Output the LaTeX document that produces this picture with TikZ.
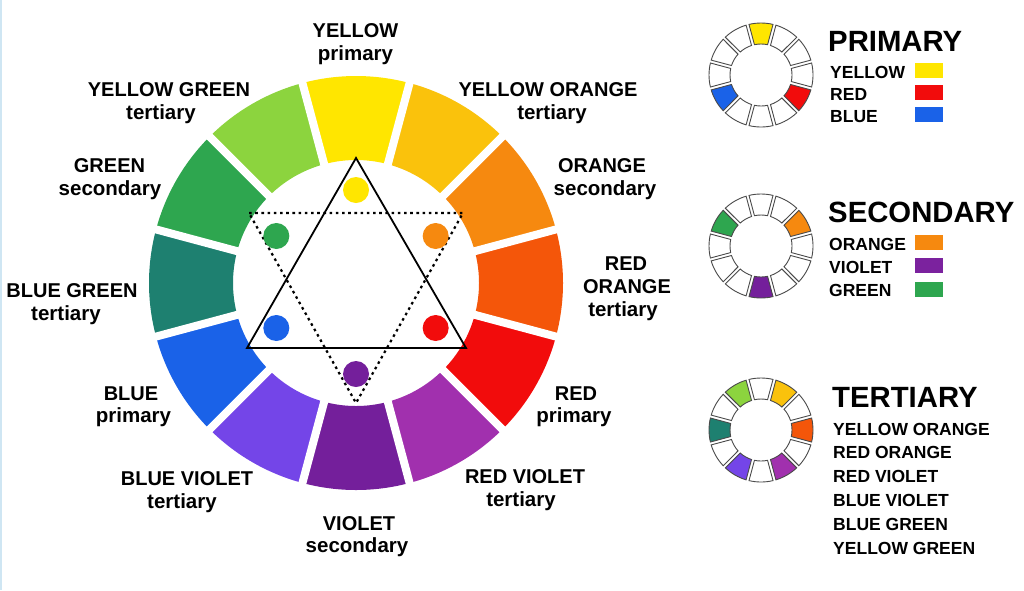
\documentclass[tikz,border=0pt]{standalone}
\usepackage{fontspec}
\setmainfont{Liberation Sans}
\definecolor{cY}{HTML}{FFE600}
\definecolor{cYO}{HTML}{FAC20C}
\definecolor{cO}{HTML}{F6890F}
\definecolor{cRO}{HTML}{F4560A}
\definecolor{cR}{HTML}{F20C0C}
\definecolor{cRV}{HTML}{A130AE}
\definecolor{cV}{HTML}{741F9B}
\definecolor{cBV}{HTML}{7445E8}
\definecolor{cB}{HTML}{1A62E8}
\definecolor{cBG}{HTML}{1E8070}
\definecolor{cG}{HTML}{2EA64F}
\definecolor{cYG}{HTML}{8CD43E}
\definecolor{mgray}{HTML}{4A4A4A}
\definecolor{edgeblue}{HTML}{CFE6F3}
\newcommand{\mwheel}[2]{%
  \begin{scope}[shift={#1}, yscale=-1]
    \foreach \a/\c in {#2}
      \draw[draw=mgray, line width=0.9, fill=\c]
        (\a-12.2:31) arc[start angle=\a-12.2, end angle=\a+12.2, radius=31]
        -- (\a+13.35:52) arc[start angle=\a+13.35, end angle=\a-13.35, radius=52]
        -- cycle;
  \end{scope}}
\begin{document}
\begin{tikzpicture}[x=1pt, y=-1pt,
  wlab/.style={font=\bfseries\fontsize{20}{24}\selectfont, anchor=base, inner sep=0pt},
  wsub/.style={font=\bfseries\fontsize{20.5}{24}\selectfont, anchor=base, inner sep=0pt},
  ttl/.style={font=\bfseries\fontsize{29.3}{34}\selectfont, anchor=base west, inner sep=0pt},
  itm/.style={font=\bfseries\fontsize{17.5}{21}\selectfont, anchor=base west, inner sep=0pt},
  swatch/.style={minimum width=28pt, minimum height=15pt, inner sep=0pt, anchor=north west}]
\useasboundingbox (0,0) rectangle (1024,590);
\fill[white] (0,0) rectangle (1024,590);
\draw[edgeblue, line width=1.5] (0.75,0) -- (0.75,590);

% main wheel
\begin{scope}[shift={(356,283)}, yscale=-1]
  \foreach \a/\c in {90/cY,60/cYO,30/cO,0/cRO,-30/cR,-60/cRV,-90/cV,-120/cBV,-150/cB,180/cBG,150/cG,120/cYG}
    \fill[\c] (\a-15:123) arc[start angle=\a-15, end angle=\a+15, radius=123]
      -- (\a+15:207) arc[start angle=\a+15, end angle=\a-15, radius=207] -- cycle;
  \foreach \a in {15,45,...,345}
    \draw[white, line width=8] (\a:118) -- (\a:212);
\end{scope}

% triangles
\coordinate (t1) at (356,158);
\coordinate (t2) at (247,348);
\coordinate (t3) at (466,348);
\draw[line width=1.8] (t1) -- (t2) -- (t3) -- cycle;
\coordinate (d1) at (249,213);
\coordinate (d2) at (463,213);
\coordinate (d3) at (356,403);
\draw[line width=2.2, dash pattern=on 2.6pt off 3.6pt] (d1) -- (d2) -- (d3) -- cycle;

% dots
\begin{scope}[shift={(356,282)}, yscale=-1]
  \foreach \a/\c in {90/cY,30/cO,-30/cR,-90/cV,-150/cB,150/cG}
    \fill[\c] (\a:92) circle[radius=13];
\end{scope}

% labels of the main wheel
\node[wlab] (lY1) at (355.5,37) {YELLOW};
\node[wsub] (lY2) at (355.5,60) {primary};
\node[wlab] (lYG1) at (169,96) {YELLOW GREEN};
\node[wsub] (lYG2) at (161,119) {tertiary};
\node[wlab] (lYO1) at (548,96) {YELLOW ORANGE};
\node[wsub] (lYO2) at (552,119) {tertiary};
\node[wlab] (lG1) at (109.5,172) {GREEN};
\node[wsub] (lG2) at (110,195) {secondary};
\node[wlab] (lO1) at (602,172) {ORANGE};
\node[wsub] (lO2) at (605,195) {secondary};
\node[wlab] (lBG1) at (72,297) {BLUE GREEN};
\node[wsub] (lBG2) at (66,320) {tertiary};
\node[wlab] (lRO1) at (626,270) {RED};
\node[wlab] (lRO2) at (627,293) {ORANGE};
\node[wsub] (lRO3) at (623,316) {tertiary};
\node[wlab] (lB1) at (131,400) {BLUE};
\node[wsub] (lB2) at (133.5,422.5) {primary};
\node[wlab] (lR1) at (576,400) {RED};
\node[wsub] (lR2) at (574,422.5) {primary};
\node[wlab] (lBV1) at (187,485) {BLUE VIOLET};
\node[wsub] (lBV2) at (182,508) {tertiary};
\node[wlab] (lRV1) at (525,483) {RED VIOLET};
\node[wsub] (lRV2) at (521,506) {tertiary};
\node[wlab] (lV1) at (359,530) {VIOLET};
\node[wsub] (lV2) at (357,552) {secondary};

% small wheels
\mwheel{(761,75)}{90/cY,60/white,30/white,0/white,-30/cR,-60/white,-90/white,-120/white,-150/cB,180/white,150/white,120/white}
\mwheel{(761,246)}{90/white,60/white,30/cO,0/white,-30/white,-60/white,-90/cV,-120/white,-150/white,180/white,150/cG,120/white}
\mwheel{(761,430)}{90/white,60/cYO,30/white,0/cRO,-30/white,-60/cRV,-90/white,-120/cBV,-150/white,180/cBG,150/white,120/cYG}

% primary legend
\node[ttl] (tP) at (828,51) {PRIMARY};
\node[itm] (pY) at (830,78) {YELLOW};
\node[itm] (pR) at (830,100) {RED};
\node[itm] (pB) at (830,122) {BLUE};
\node[swatch, fill=cY] (sY) at (915,63) {};
\node[swatch, fill=cR] (sR) at (915,85) {};
\node[swatch, fill=cB] (sB) at (915,107) {};

% secondary legend
\node[ttl] (tS) at (828,222) {SECONDARY};
\node[itm] (sO) at (829,250) {ORANGE};
\node[itm] (sV) at (829,273) {VIOLET};
\node[itm] (sG) at (829,296) {GREEN};
\node[swatch, fill=cO] (swO) at (915,235) {};
\node[swatch, fill=cV!85!cRV] (swV) at (915,258) {};
\node[swatch, fill=cG] (swG) at (915,282) {};

% tertiary legend
\node[ttl] (tT) at (832,407) {TERTIARY};
\node[itm] (t1n) at (833,435) {YELLOW ORANGE};
\node[itm] (t2n) at (833,458) {RED ORANGE};
\node[itm] (t3n) at (833,482) {RED VIOLET};
\node[itm] (t4n) at (833,506) {BLUE VIOLET};
\node[itm] (t5n) at (833,530) {BLUE GREEN};
\node[itm] (t6n) at (833,554) {YELLOW GREEN};
\end{tikzpicture}
\end{document}
